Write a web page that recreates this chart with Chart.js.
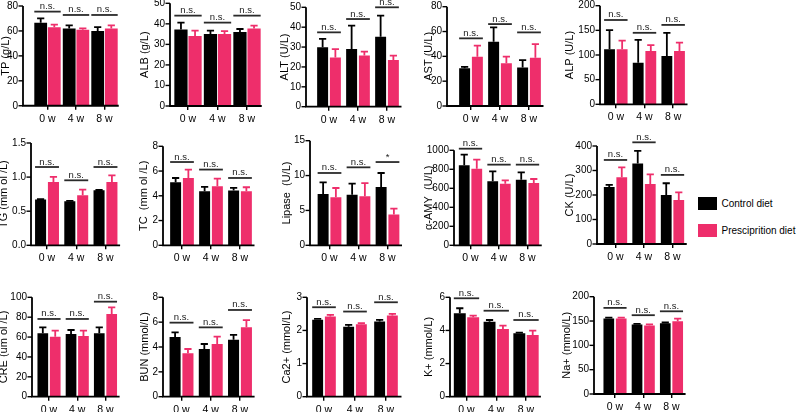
<!DOCTYPE html>
<html><head><meta charset="utf-8">
<script src="https://cdn.jsdelivr.net/npm/chart.js@4/dist/chart.umd.min.js"></script>
<style>
html,body{margin:0;padding:0;background:#fff;width:796px;height:412px;overflow:hidden;position:relative;font-family:'Liberation Sans',Arial,sans-serif;}
canvas{position:absolute;}
.leg{position:absolute;left:698px;font-size:10px;color:#000;height:13px;width:98px;}
.leg .box{position:absolute;left:0;top:0;width:19px;height:13px;}
.leg .lab{position:absolute;left:23.5px;top:0;white-space:nowrap;line-height:13px;}
</style></head><body>
<div id="legend"></div>
<script>
// ---------- data ----------
const categories = ['0 w', '4 w', '8 w'];
const seriesNames = ['Control diet', 'Presciprition diet'];
const panelNames = ['TP','ALB','ALT','AST','ALP','TG','TC','Lipase','α-AMY','CK','CRE','BUN','Ca2+','K+','Na+'];
const yTitles = ['TP (g/L)','ALB (g/L)','ALT (U/L)','AST (U/L)','ALP (U/L)',
  'TG (mm ol /L)','TC  (mm ol /L)','Lipase  (U/L)','α-AMY  (U/L)','CK (U/L)',
  'CRE (um ol /L)','BUN (mmol/L)','Ca2+ (mmol/L)','K+ (mmol/L)','Na+ (mmol/L)'];
const yTickLabels = [
  ['0','20','40','60','80'],
  ['0','10','20','30','40','50'],
  ['0','10','20','30','40','50'],
  ['0','20','40','60','80'],
  ['0','50','100','150','200'],
  ['0.0','0.5','1.0','1.5'],
  ['0','2','4','6','8'],
  ['0','5','10','15'],
  ['0','200','400','600','800','1000'],
  ['0','100','200','300','400'],
  ['0','20','40','60','80','100'],
  ['0','2','4','6','8'],
  ['0','1','2','3'],
  ['0','2','4','6'],
  ['0','50','100','150','200']
];
const controlMean = [
  [66.5, 62, 60], [37.3, 35.1, 36], [29.9, 29, 35.2], [30.5, 51.8, 31.1], [111.5, 84.5, 98],
  [0.67, 0.645, 0.806], [5.09, 4.37, 4.42], [7.36, 7.26, 8.36], [842, 674, 691], [233, 329, 200],
  [63.8, 63.1, 63.8], [4.81, 3.84, 4.59], [2.32, 2.11, 2.27], [5.03, 4.53, 3.83], [155, 143, 145.5]
];
const controlErr = [
  [3.5, 2.5, 3], [3.3, 1.6, 1.5], [4.2, 11.8, 10.6], [1, 11.6, 5.9], [39, 46, 47],
  [0.005, 0.005, 0.005], [0.35, 0.35, 0.22], [1.67, 1.58, 2.01], [112, 105, 77], [8, 51, 48],
  [6, 4, 6], [0.37, 0.4, 0.38], [0.03, 0.06, 0.05], [0.31, 0.1, 0.04], [2, 1, 1.5]
];
const prescMean = [
  [63, 61, 62], [34.1, 35.1, 37.7], [24.8, 25.7, 23.5], [39.7, 34.4, 38.9], [111.5, 108, 108],
  [0.928, 0.733, 0.928], [5.44, 4.77, 4.37], [6.88, 7.02, 4.4], [807, 649, 656], [272, 245, 180],
  [60.4, 61.1, 83.2], [3.49, 4.24, 5.58], [2.42, 2.19, 2.45], [4.79, 4.09, 3.72], [155, 141, 149.7]
];
const prescErr = [
  [2, 1, 2.5], [2.6, 1.4, 1.4], [4.2, 2, 2.2], [8.9, 5.3, 11], [17.5, 12, 17],
  [0.075, 0.083, 0.098], [0.67, 0.62, 0.32], [1.34, 1.91, 0.86], [95, 35, 42], [41, 39, 31],
  [6, 5.3, 6.7], [0.35, 0.59, 0.59], [0.05, 0.03, 0.05], [0.1, 0.2, 0.27], [2, 2, 5.3]
];
const sigLevel = [
  [75.5, 72.8, 72.8], [44, 40.6, 44], [37.4, 44.1, 50], [54.5, 66, 59.3], [171, 145, 161],
  [1.148, 0.953, 1.148], [6.73, 6.12, 5.44], [10.37, 11.18, 11.94], [1017, 849, 849], [343, 415, 282],
  [78.2, 78.2, 95.6], [5.96, 5.58, 6.98], [2.70, 2.57, 2.85], [5.94, 5.19, 4.63], [177, 162, 170]
];
const sigText = [
  ['n.s.','n.s.','n.s.'], ['n.s.','n.s.','n.s.'], ['n.s.','n.s.','n.s.'], ['n.s.','n.s.','n.s.'], ['n.s.','n.s.','n.s.'],
  ['n.s.','n.s.','n.s.'], ['n.s.','n.s.','n.s.'], ['n.s.','n.s.','*'], ['n.s.','n.s.','n.s.'], ['n.s.','n.s.','n.s.'],
  ['n.s.','n.s.','n.s.'], ['n.s.','n.s.','n.s.'], ['n.s.','n.s.','n.s.'], ['n.s.','n.s.','n.s.'], ['n.s.','n.s.','n.s.']
];

// ---------- layout & style (page pixels) ----------
const colors = ['#000000', '#EE2E6B'];
const layout = [
  {ax:23,  cl:33.25, cr:118.75, top:6,     bottom:106,   tx:6,     cp:0.955, bp:0.94},
  {ax:170, cl:173.25,cr:261.75, top:3.3,   bottom:106,   tx:145,   cp:0.955, bp:0.94},
  {ax:306, cl:314.5, cr:401.5,  top:7.3,   bottom:106.7, tx:285},
  {ax:447, cl:456.5, cr:543.5,  top:6.7,   bottom:106,   tx:428.5},
  {ax:600, cl:601.5, cr:687.5,  top:5.7,   bottom:104.3, tx:570},
  {ax:31,  cl:32.4,  cr:120.1,  top:143,   bottom:245.3, tx:4},
  {ax:163, cl:167.5, cr:254.5,  top:146.3, bottom:245.3, tx:144},
  {ax:310, cl:315,   cr:402,    top:140.7, bottom:245.3, tx:287},
  {ax:454, cl:456.25,cr:541.75, top:150.3, bottom:245.3, tx:428.5},
  {ax:597, cl:601.25,cr:686.75, top:146,   bottom:244,   tx:570},
  {ax:32,  cl:34.9,  cr:119.6,  top:297.3, bottom:396.7, tx:4},
  {ax:163, cl:166.9, cr:254.6,  top:297.3, bottom:396.7, tx:144.5},
  {ax:307, cl:308.5, cr:401.5,  top:297.3, bottom:396.7, tx:287,   cp:0.82},
  {ax:450, cl:451.6, cr:540.9,  top:297.3, bottom:396.7, tx:429,   cp:0.9, bp:0.89},
  {ax:594, cl:600.9, cr:685.6,  top:296.7, bottom:394,   tx:567}
];
const FONT = "'Liberation Sans', Arial, sans-serif";
Chart.defaults.font.family = FONT;
Chart.defaults.color = '#000';

function makePlugin(p, offX) {
  const L = layout[p];
  return {
    id: 'panel' + p,
    afterDatasetsDraw(chart) {
      const ctx = chart.ctx, ys = chart.scales.y;
      const m0 = chart.getDatasetMeta(0), m1 = chart.getDatasetMeta(1);
      ctx.save();
      ctx.lineCap = 'butt';
      [[m0, controlMean[p], controlErr[p], colors[0]], [m1, prescMean[p], prescErr[p], colors[1]]].forEach(([meta, mean, err, col]) => {
        meta.data.forEach((bar, i) => {
          const y0 = ys.getPixelForValue(mean[i]);
          const y1 = ys.getPixelForValue(mean[i] + err[i]);
          ctx.strokeStyle = col; ctx.lineWidth = 1.8;
          ctx.beginPath();
          ctx.moveTo(bar.x, y0); ctx.lineTo(bar.x, y1);
          ctx.moveTo(bar.x - 3.6, y1); ctx.lineTo(bar.x + 3.6, y1);
          ctx.stroke();
        });
      });
      ctx.font = '9.5px ' + FONT;
      ctx.textAlign = 'center'; ctx.textBaseline = 'alphabetic';
      for (let i = 0; i < categories.length; i++) {
        const b0 = m0.data[i], b1 = m1.data[i];
        const xl = b0.x - b0.width / 2, xr = b1.x + b1.width / 2;
        const y = ys.getPixelForValue(sigLevel[p][i]);
        ctx.strokeStyle = '#2a2a2a'; ctx.lineWidth = 1.8;
        ctx.beginPath(); ctx.moveTo(xl, y); ctx.lineTo(xr, y); ctx.stroke();
        ctx.fillStyle = '#222';
        ctx.fillText(sigText[p][i], (xl + xr) / 2, y - 2.5);
      }
      ctx.restore();
    },
    afterDraw(chart) {
      const ctx = chart.ctx, ys = chart.scales.y, area = chart.chartArea;
      const axX = L.ax - offX, xEnd = L.cr - offX;
      const yTop = ys.getPixelForValue(ys.max), yBot = area.bottom;
      ctx.save();
      ctx.strokeStyle = '#000'; ctx.lineWidth = 1.8;
      ctx.beginPath();
      ctx.moveTo(axX, yTop); ctx.lineTo(axX, yBot + 0.9);
      ctx.moveTo(axX - 0.9, yBot); ctx.lineTo(xEnd, yBot);
      ctx.stroke();
      ctx.lineWidth = 1.4;
      ys.ticks.forEach(t => {
        const y = ys.getPixelForValue(t.value);
        ctx.beginPath(); ctx.moveTo(axX - 4.5, y); ctx.lineTo(axX, y); ctx.stroke();
      });
      // y-axis title
      ctx.translate(L.tx - offX, (yTop + yBot) / 2);
      ctx.rotate(-Math.PI / 2);
      ctx.font = '11px ' + FONT;
      ctx.fillStyle = '#000';
      ctx.textAlign = 'center'; ctx.textBaseline = 'middle';
      ctx.fillText(yTitles[p], 0, 0);
      ctx.restore();
    }
  };
}

panelNames.forEach((name, p) => {
  const L = layout[p];
  const scaleLeft = L.tx - 7;
  const Lc = Math.floor(L.tx - 9);
  const Rc = Math.ceil(L.cr + 5);
  const Tc = Math.floor(L.top - 22);
  const Bc = Math.ceil(L.bottom + 21);
  const cv = document.createElement('canvas');
  cv.width = Rc - Lc; cv.height = Bc - Tc;
  cv.style.left = Lc + 'px'; cv.style.top = Tc + 'px';
  cv.style.width = (Rc - Lc) + 'px'; cv.style.height = (Bc - Tc) + 'px';
  document.body.appendChild(cv);
  const padL = scaleLeft - Lc, wy = L.cl - scaleLeft;
  const padR = Rc - L.cr, padT = L.top - Tc, hx = Bc - L.bottom;
  const labels = yTickLabels[p];
  const yMax = parseFloat(labels[labels.length - 1]);
  const yStep = parseFloat(labels[1]);
  const cp = L.cp || 0.88, bp = L.bp || 0.86;
  new Chart(cv, {
    type: 'bar',
    data: {
      labels: categories,
      datasets: [
        {label: seriesNames[0], data: controlMean[p], backgroundColor: colors[0], borderWidth: 0, categoryPercentage: cp, barPercentage: bp},
        {label: seriesNames[1], data: prescMean[p], backgroundColor: colors[1], borderWidth: 0, categoryPercentage: cp, barPercentage: bp}
      ]
    },
    options: {
      responsive: false, animation: false, devicePixelRatio: 1,
      layout: {autoPadding: false, padding: {left: padL, right: padR, top: padT, bottom: 0}},
      plugins: {legend: {display: false}, tooltip: {enabled: false}},
      scales: {
        x: {
          offset: true,
          grid: {display: true, drawOnChartArea: false, drawTicks: true, tickLength: 4, offset: false, color: '#000', lineWidth: 1.4},
          border: {display: false},
          ticks: {color: '#000', font: {size: 10.5}, padding: 3, maxRotation: 0, autoSkip: false},
          afterFit: s => { s.height = hx; }
        },
        y: {
          min: 0, max: yMax,
          grid: {display: false, drawTicks: false},
          border: {display: false},
          ticks: {stepSize: yStep, color: '#000', font: {size: 10}, padding: L.cl - L.ax + 5,
                  callback: (v, i) => labels[i]},
          title: {display: false},
          afterFit: s => { s.width = wy; }
        }
      }
    },
    plugins: [makePlugin(p, Lc)]
  });
});

// legend
const legendTops = [197, 224];
const lg = document.getElementById('legend');
seriesNames.forEach((n, i) => {
  const d = document.createElement('div');
  d.className = 'leg'; d.style.top = legendTops[i] + 'px';
  const b = document.createElement('div'); b.className = 'box'; b.style.background = colors[i];
  const t = document.createElement('div'); t.className = 'lab'; t.textContent = n;
  d.appendChild(b); d.appendChild(t); lg.appendChild(d);
});
</script>
</body></html>
